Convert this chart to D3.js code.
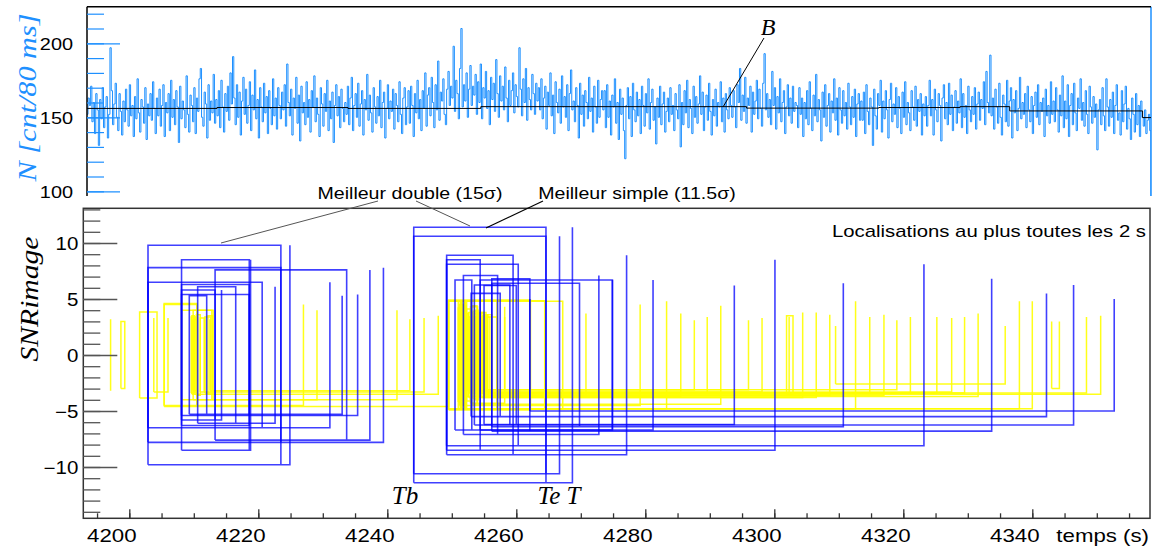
<!DOCTYPE html>
<html><head><meta charset="utf-8">
<script src="https://cdn.jsdelivr.net/npm/d3@7"></script>
<style>body{margin:0;background:#fff;} svg{display:block;}</style>
</head><body><svg id="c" width="1159" height="548"></svg>
<script>
// ---------- data ----------
const countStart = 4193.4, countStep = 0.2; // counts per 80 ms bin, sampled every 0.2 s
const counts = [
152,163,158,171,147,160,139,166,155,131,162,149,170,143,157,164,136,152,197,168,
145,159,173,150,141,166,154,138,161,147,169,155,144,172,151,158,137,164,149,176,
153,140,162,157,146,170,135,159,151,166,
148,174,156,139,163,151,169,144,158,172,137,160,153,166,141,175,150,162,145,168,
157,133,171,149,161,155,143,178,152,140,165,158,147,170,139,163,154,176,183,150,
144,167,159,136,172,148,161,153,179,146,
162,151,168,143,175,157,140,166,154,171,148,180,159,191,163,145,172,150,167,138,
161,177,152,169,146,158,174,141,165,155,182,149,162,136,170,157,147,173,153,164,
139,168,156,145,176,151,163,142,170,158,
149,167,155,172,144,186,160,151,169,138,163,156,177,146,165,134,171,153,160,145,
174,150,162,140,168,157,178,147,163,152,137,170,159,144,166,154,175,141,161,149,
167,133,158,172,151,164,143,169,156,147,
160,152,171,145,163,177,141,158,166,150,173,144,159,168,138,162,155,179,148,165,
153,140,170,157,146,164,151,175,143,160,167,136,156,172,149,161,154,169,142,166,
158,147,174,152,139,163,170,145,157,168,
146,171,158,137,166,153,175,149,162,141,168,156,180,144,165,170,151,177,160,143,
172,155,188,148,167,161,176,152,145,169,181,158,171,163,198,154,175,166,149,183,
210,157,172,161,180,150,169,185,158,171,
165,179,152,174,160,186,149,170,163,181,156,168,145,177,162,173,154,189,166,150,
178,161,171,155,184,163,147,175,158,168,180,153,172,164,157,197,169,151,176,160,
183,148,170,162,155,179,166,152,173,161,
170,155,176,149,163,171,142,167,158,180,151,165,139,174,160,153,169,146,178,157,
164,150,172,141,166,182,155,161,147,170,158,136,173,152,165,144,168,160,149,177,
154,163,140,171,157,146,175,150,162,168,
155,168,143,172,150,161,138,165,157,176,146,160,135,169,152,163,141,122,158,170,
149,164,137,173,155,147,167,151,162,139,171,158,144,166,153,176,142,160,169,148,
157,132,163,150,171,145,159,167,140,154,
163,147,170,152,158,141,166,155,149,172,130,160,145,168,153,175,143,162,156,139,
171,150,164,146,159,178,152,167,141,157,165,148,173,154,138,162,151,169,144,160,
157,174,147,163,140,166,155,149,170,158,
150,168,157,143,172,160,183,148,165,154,177,146,163,158,171,140,167,152,161,175,
149,169,156,144,173,193,155,166,150,162,145,181,158,170,142,164,153,176,147,160,
168,139,157,172,151,163,146,171,154,160,
158,143,170,152,163,137,160,149,168,145,174,156,141,165,151,179,147,162,155,134,
167,150,172,144,158,166,140,161,153,176,148,163,138,170,155,146,168,151,160,142,
173,157,145,164,150,169,137,159,166,148,
161,148,167,139,172,154,145,163,157,131,169,151,142,166,158,175,140,161,149,168,
155,136,162,173,147,159,152,170,143,164,156,139,167,150,174,145,160,153,141,168,
157,148,171,144,162,154,166,138,159,151,
164,144,158,175,151,162,138,169,155,147,166,158,134,163,172,149,160,145,173,152,
165,141,157,168,146,161,153,176,143,166,150,158,139,171,155,147,164,152,170,142,
159,167,148,162,156,174,145,181,160,153,
192,151,163,142,169,157,146,173,150,138,165,159,147,175,144,161,170,136,162,153,
168,141,156,177,149,160,152,166,143,171,155,147,164,139,158,167,150,172,145,160,
154,163,137,169,151,158,146,174,152,161,
147,170,155,140,165,151,178,143,161,149,172,137,158,166,145,173,153,141,163,156,
176,148,160,144,168,152,139,171,157,146,164,150,159,128,155,162,145,170,151,141,
176,157,144,162,150,167,139,158,172,148,
153,138,168,147,159,171,142,156,149,135,163,152,140,166,145,158,137,161,150,144,
155,139,148,152,141,0
];
// background B (step function): start times and levels
const bgTimes  = [4193.4, 4213.6, 4233.9, 4254.5, 4295.7, 4316.2, 4328.8, 4336.5, 4357.1, 4358.5];
const bgLevels = [156.0, 156.6, 156.0, 157.2, 156.2, 156.6, 157.2, 154.3, 149.8, 149.8];

// localisations: [t begin, t end of image, t localisation, SNR]
const blueLocs = [
 [4202.9,4223.5,4224.9,9.8],[4208.1,4218.6,4218.8,8.5],[4202.9,4223.5,4239.4,7.8],
 [4213.3,4233.7,4237.3,7.6],[4202.9,4220.6,4231.1,6.5],[4209.3,4212.0,4233.0,5.3],
 [4208.1,4218.6,4235.4,5.4],[4210.6,4216.5,4222.6,6.1],[4208.1,4213.3,4214.3,5.8],
 [4208.1,4218.6,4218.6,6.3],
 [4244.1,4264.6,4268.7,11.4],[4244.1,4264.6,4266.7,10.6],[4249.2,4259.5,4277.1,8.9],
 [4249.2,4254.4,4300.1,8.5],[4249.2,4260.3,4323.2,8.1],[4251.8,4257.1,4272.8,7.1],
 [4250.5,4253.1,4274.9,6.7],[4254.4,4274.9,4281.2,6.7],[4256.2,4269.8,4310.7,6.4],
 [4256.2,4262.1,4333.7,6.8],[4262.1,4262.1,4352.7,5.0],[4255.0,4260.0,4293.8,6.2],
 [4253.0,4257.5,4342.2,5.5],[4253.5,4259.0,4346.4,6.25]
];
const yellowLocs = [
 [4197.1,4197.1,4197.1,3.2],[4198.7,4199.3,4199.3,3.0],[4201.6,4204.3,4204.3,3.85],
 [4203.8,4203.8,4206.0,3.3],[4205.4,4210.5,4227.0,4.5],[4208.1,4213.0,4229.1,4.0],
 [4209.9,4212.8,4241.5,4.0],[4212.5,4212.5,4243.5,3.2],[4211.7,4211.7,4245.7,3.3],
 [4209.6,4209.9,4209.9,3.4],[4210.0,4210.4,4210.4,3.2],[4210.4,4211.0,4211.0,3.6],
 [4211.0,4211.6,4211.6,3.3],[4211.7,4212.6,4212.6,3.4],[4212.2,4212.9,4212.9,3.5],
 [4209.7,4210.1,4247.9,3.5],[4209.8,4210.0,4210.0,3.1],[4210.2,4210.6,4210.6,3.4],
 [4205.4,4210.5,4249.5,4.6],
 [4251.0,4251.4,4251.4,4.2],[4251.3,4251.8,4251.8,3.9],[4251.6,4252.2,4252.2,4.4],
 [4251.9,4252.5,4252.5,3.7],[4252.3,4252.9,4252.9,4.1],[4252.6,4253.2,4253.2,3.8],
 [4252.9,4253.5,4253.5,4.3],[4253.3,4253.8,4253.8,3.9],[4253.6,4254.1,4254.1,4.0],
 [4249.5,4262.2,4262.2,4.9],[4249.5,4264.4,4264.4,4.85],[4249.5,4267.2,4267.2,4.8],
 [4255.5,4257.0,4258.2,3.4],[4252.0,4253.0,4257.0,4.8],[4253.0,4254.0,4258.2,4.3],
 [4253.5,4254.0,4270.8,3.7],
 [4251.2,4251.8,4279.2,4.5],[4251.5,4252.3,4283.3,4.8],[4252.0,4252.6,4285.5,3.7],
 [4252.4,4253.0,4287.6,3.1],[4252.8,4253.4,4289.6,3.4],[4253.1,4253.9,4291.7,4.4],
 [4253.5,4254.2,4296.0,3.1],[4253.8,4254.5,4298.1,3.3],[4254.0,4254.8,4302.3,3.4],
 [4301.9,4302.9,4302.9,3.5],[4254.3,4255.0,4304.4,3.8],[4254.6,4255.3,4306.5,3.8],
 [4254.9,4255.6,4308.6,3.6],[4309.5,4309.5,4335.8,2.6],[4251.3,4252.0,4312.6,4.8],
 [4255.2,4255.9,4314.8,3.4],[4255.5,4256.2,4317.0,3.6],[4252.1,4252.7,4319.0,3.1],
 [4252.6,4253.3,4321.1,3.4],[4253.0,4253.7,4325.2,3.4],[4253.4,4254.1,4327.5,3.3],
 [4253.7,4254.4,4329.5,3.4],[4254.1,4254.9,4331.6,3.7],[4251.0,4251.6,4338.0,4.8],
 [4251.4,4252.1,4340.0,4.8],[4343.0,4343.0,4344.2,3.0],[4254.5,4255.2,4348.4,3.4],
 [4254.8,4255.5,4350.6,3.5]
];
const xMajorTicks = [4200,4220,4240,4260,4280,4300,4320,4340];
const xMinorTicks = d3.range(4195, 4356, 5);
const topMajorTicks = [100,150,200];
const topMinorTicks = d3.range(100, 221, 10);
const botMajorTicks = [-10,-5,0,5,10];
const botMinorTicks = d3.range(-14, 14, 1);

// ---------- layout ----------
const svg = d3.select('#c');
const SANS = "'Liberation Sans', Arial, Helvetica, sans-serif";
const SERIF = "'Liberation Serif', 'Times New Roman', serif";
const HBLUE = '#1e90ff';
const TOP = {l:87, r:1151, t:6.7, b:196};
const BOT = {l:83.3, r:1150, t:208.3, b:518.3};

const x = d3.scaleLinear().domain([4200,4340]).range([129.3, 129.3+140*6.45]);
const yTop = d3.scaleLinear().domain([100,200]).range([191.3, 43.3]);
const yBot = d3.scaleLinear().domain([-10,10]).range([467, 243]);

function stretch(sel, f){ sel.each(function(){ const w=this.getComputedTextLength(); this.setAttribute('textLength', w*f); this.setAttribute('lengthAdjust','spacingAndGlyphs'); }); }
function fitLen(sel, len){ sel.attr('textLength', len).attr('lengthAdjust','spacingAndGlyphs'); }

const defs = svg.append('defs');
defs.append('clipPath').attr('id','clipTop').append('rect')
  .attr('x',TOP.l).attr('y',TOP.t).attr('width',TOP.r-TOP.l).attr('height',TOP.b-TOP.t);
defs.append('clipPath').attr('id','clipBot').append('rect')
  .attr('x',BOT.l).attr('y',BOT.t).attr('width',BOT.r-BOT.l).attr('height',BOT.b-BOT.t);

// ---------- top panel ----------
const histPts = counts.map((v,i)=>[countStart+i*countStep, v]);
histPts.push([countStart+counts.length*countStep, 0]);
svg.append('path').attr('clip-path','url(#clipTop)')
  .attr('d', d3.line().x(d=>x(d[0])).y(d=>yTop(d[1])).curve(d3.curveStepAfter)(histPts))
  .attr('fill','none').attr('stroke',HBLUE).attr('stroke-width',1);
svg.append('line').attr('x1',TOP.r).attr('x2',TOP.r).attr('y1',TOP.t).attr('y2',TOP.b)
  .attr('stroke',HBLUE).attr('stroke-width',1.5);

const bgPts = bgTimes.map((t,i)=>[t,bgLevels[i]]);
svg.append('path').attr('clip-path','url(#clipTop)')
  .attr('d', d3.line().x(d=>x(d[0])).y(d=>yTop(d[1])).curve(d3.curveStepAfter)(bgPts))
  .attr('fill','none').attr('stroke','#000').attr('stroke-width',1);

// top frame lines
svg.append('line').attr('x1',TOP.l).attr('x2',TOP.r).attr('y1',TOP.t).attr('y2',TOP.t).attr('stroke','#000').attr('stroke-width',1.5);
svg.append('line').attr('x1',TOP.l).attr('x2',TOP.l).attr('y1',TOP.t).attr('y2',TOP.b).attr('stroke','#000').attr('stroke-width',1.5);

// top y axis
const gTopMinor = svg.append('g').attr('transform',`translate(${TOP.l},0)`)
  .call(d3.axisLeft(yTop).tickValues(topMinorTicks).tickSize(-17).tickFormat(''));
const gTopMajor = svg.append('g').attr('transform',`translate(${TOP.l},0)`)
  .call(d3.axisLeft(yTop).tickValues(topMajorTicks).tickSize(-33).tickPadding(14).tickFormat(d3.format('d')));
[gTopMinor,gTopMajor].forEach(g=>{ g.select('.domain').remove(); g.selectAll('line').attr('stroke',HBLUE).attr('stroke-width',1.2); });
gTopMajor.selectAll('text').attr('font-family',SANS).attr('font-size',17).attr('fill','#000').attr('dy','0.36em').call(stretch,1.17);

svg.append('text').attr('transform','translate(36,97.5) rotate(-90)').attr('text-anchor','middle')
  .attr('font-family',SERIF).attr('font-style','italic').attr('font-size',26).attr('fill',HBLUE)
  .text('N [cnt/80 ms]').call(fitLen,168);

// B label
svg.append('line').attr('x1',764).attr('y1',38).attr('x2',723).attr('y2',107).attr('stroke','#000').attr('stroke-width',1);
svg.append('text').attr('x',768).attr('y',35).attr('text-anchor','middle')
  .attr('font-family',SERIF).attr('font-style','italic').attr('font-size',24).text('B');

// ---------- bottom panel ----------
function locPath(d){
  const [tb,te,tl,s] = d, p = d3.path();
  p.moveTo(x(tb), yBot(-s)); p.lineTo(x(tb), yBot(s)); p.lineTo(x(te), yBot(s)); p.lineTo(x(te), yBot(-s));
  p.moveTo(x(tb), yBot(-s)); p.lineTo(x(tl), yBot(-s)); p.lineTo(x(tl), yBot(s));
  return p.toString();
}
const gLoc = svg.append('g').attr('clip-path','url(#clipBot)');
gLoc.selectAll('path.y').data(yellowLocs).join('path').attr('class','y').attr('d',locPath)
  .attr('fill','none').attr('stroke','rgb(255,255,0)').attr('stroke-opacity',0.9).attr('stroke-width',1.5);
gLoc.selectAll('path.b').data(blueLocs).join('path').attr('class','b').attr('d',locPath)
  .attr('fill','none').attr('stroke','rgb(0,0,255)').attr('stroke-opacity',0.75).attr('stroke-width',1.6);

svg.append('rect').attr('x',BOT.l).attr('y',BOT.t).attr('width',BOT.r-BOT.l).attr('height',BOT.b-BOT.t)
  .attr('fill','none').attr('stroke','#333').attr('stroke-width',1.5);

const gBotMinor = svg.append('g').attr('transform',`translate(${BOT.l},0)`)
  .call(d3.axisLeft(yBot).tickValues(botMinorTicks).tickSize(-17).tickFormat(''));
const gBotMajor = svg.append('g').attr('transform',`translate(${BOT.l},0)`)
  .call(d3.axisLeft(yBot).tickValues(botMajorTicks).tickSize(-34).tickPadding(5).tickFormat(d3.format('d')));
[gBotMinor,gBotMajor].forEach(g=>{ g.select('.domain').remove(); g.selectAll('line').attr('stroke','#555').attr('stroke-width',1.3); });
gBotMajor.selectAll('text').attr('font-family',SANS).attr('font-size',17.5).attr('fill','#000').attr('dy','0.36em').call(stretch,1.17);

const gXMinor = svg.append('g').attr('transform',`translate(0,${BOT.b})`)
  .call(d3.axisBottom(x).tickValues(xMinorTicks).tickSize(-5).tickFormat(''));
const gXMajor = svg.append('g').attr('transform',`translate(0,${BOT.b})`)
  .call(d3.axisBottom(x).tickValues(xMajorTicks).tickSize(-9).tickPadding(10).tickFormat(d3.format('d')));
[gXMinor,gXMajor].forEach(g=>{ g.select('.domain').remove(); g.selectAll('line').attr('stroke','#333').attr('stroke-width',1.3); });
gXMajor.selectAll('text').attr('font-family',SANS).attr('font-size',19).attr('fill','#000').attr('dx',-18).call(stretch,1.17);

svg.append('text').attr('x',1149).attr('y',542).attr('text-anchor','end')
  .attr('font-family',SANS).attr('font-size',19).text('temps (s)').call(stretch,1.17);

svg.append('text').attr('transform','translate(38,299) rotate(-90)').attr('text-anchor','middle')
  .attr('font-family',SERIF).attr('font-style','italic').attr('font-size',26)
  .text('SNRimage').call(fitLen,125);

svg.append('text').attr('x',1146).attr('y',237).attr('text-anchor','end')
  .attr('font-family',SANS).attr('font-size',17).text('Localisations au plus toutes les 2 s').call(fitLen,314);

// annotations
svg.append('text').attr('x',410).attr('y',199).attr('text-anchor','middle')
  .attr('font-family',SANS).attr('font-size',17).text('Meilleur double (15σ)').call(stretch,1.15);
svg.append('text').attr('x',637).attr('y',199).attr('text-anchor','middle')
  .attr('font-family',SANS).attr('font-size',17).text('Meilleur simple (11.5σ)').call(stretch,1.15);
svg.append('line').attr('x1',378).attr('y1',201).attr('x2',221).attr('y2',243).attr('stroke','#555').attr('stroke-width',1);
svg.append('line').attr('x1',416).attr('y1',201).attr('x2',470).attr('y2',226).attr('stroke','#555').attr('stroke-width',1);
svg.append('line').attr('x1',543).attr('y1',201).attr('x2',486).attr('y2',228).attr('stroke','#000').attr('stroke-width',1.2);

svg.append('text').attr('x',405).attr('y',504).attr('text-anchor','middle')
  .attr('font-family',SERIF).attr('font-style','italic').attr('font-size',25).text('Tb');
svg.append('text').attr('x',559).attr('y',504).attr('text-anchor','middle')
  .attr('font-family',SERIF).attr('font-style','italic').attr('font-size',25).text('Te T');
</script></body></html>
